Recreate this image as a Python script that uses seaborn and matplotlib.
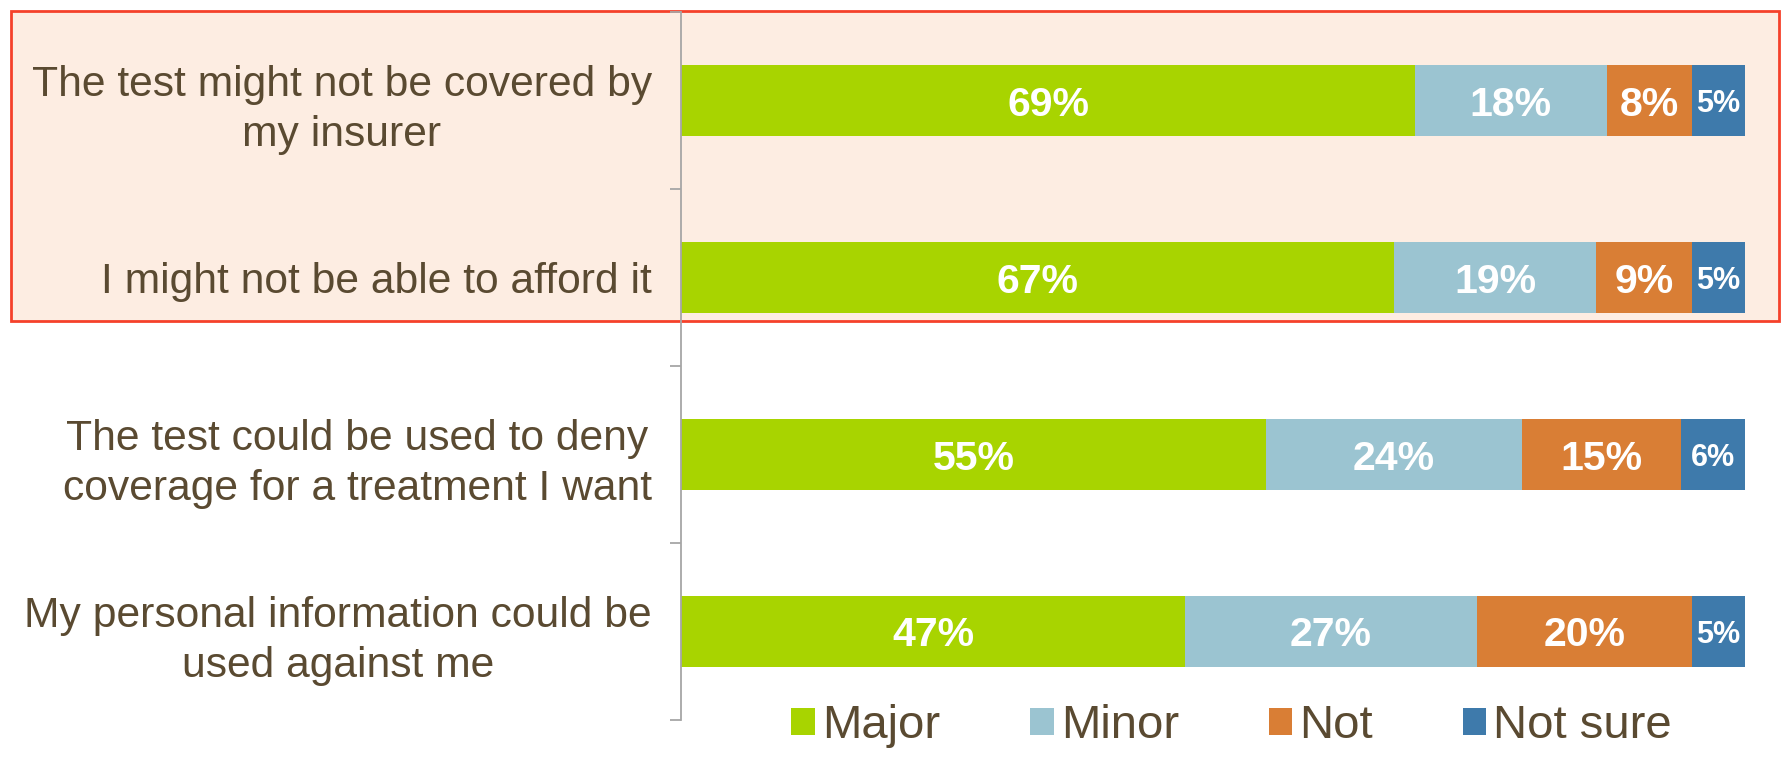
import matplotlib

matplotlib.use("Agg")
import matplotlib.pyplot as plt
import numpy as np
import pandas as pd
import seaborn as sns
from matplotlib.patches import Patch, Rectangle

# Survey concerns (top to bottom)
statements = [
    "The test might not be covered by\nmy insurer",
    "I might not be able to afford it",
    "The test could be used to deny\ncoverage for a treatment I want",
    "My personal information could be\nused against me",
]
major = [69, 67, 55, 47.4]
minor = [18, 19, 24, 27.4]
not_concern = [8, 9, 15, 20.2]
not_sure = [5, 5, 6, 5.0]

series_names = ["Major", "Minor", "Not", "Not sure"]
series_colors = ["#A8D400", "#9BC4D1", "#D97E35", "#3E7AAB"]

text_brown = "#5A4A31"
axis_gray = "#A6A6A6"

sns.set_theme(style="white")
plt.rcParams["font.family"] = ["Liberation Sans", "DejaVu Sans"]

df = pd.DataFrame(
    {
        "statement": statements,
        "Major": major,
        "Minor": minor,
        "Not": not_concern,
        "Not sure": not_sure,
    }
)
cum = df[series_names].cumsum(axis=1)

fig = plt.figure(figsize=(17.85, 7.57), dpi=100)

# highlighted block around the two cost-related statements
highlight = Rectangle(
    (11 / 1785, 1 - 321 / 757),
    (1779 - 11) / 1785,
    (321 - 11) / 757,
    transform=fig.transFigure,
    facecolor="#FDEDE2",
    edgecolor="#F5412A",
    linewidth=2,
    zorder=-1,
)
fig.add_artist(highlight)

ax = fig.add_axes([0.3815, 0.0489, 0.5961, 0.9352])
ax.set_facecolor("none")

# stacked bars: draw cumulative totals from the back to the front
for name, color in reversed(list(zip(series_names, series_colors))):
    sns.barplot(
        x=cum[name],
        y=df["statement"],
        orient="h",
        color=color,
        saturation=1,
        width=0.4,
        linewidth=0,
        errorbar=None,
        ax=ax,
    )

# segment labels
for i in range(len(df)):
    for name in series_names:
        val = df.loc[i, name]
        center = cum.loc[i, name] - val / 2
        size = 22 if name == "Not sure" else 29.5
        ax.text(
            center,
            i,
            f"{val:.0f}%",
            ha="center",
            va="center_baseline",
            color="white",
            fontsize=size,
            fontweight="bold",
        )

ax.set_xlim(0, 100)
ax.set_ylim(len(df) - 0.5, -0.5)
ax.set_xlabel("")
ax.set_ylabel("")
ax.set_xticks([])

for side in ["top", "right", "bottom"]:
    ax.spines[side].set_visible(False)
ax.spines["left"].set_color(axis_gray)
ax.spines["left"].set_linewidth(1.3)

ax.set_yticks(np.arange(-0.5, len(df), 1.0), minor=True)
ax.tick_params(axis="y", which="minor", length=8, width=1.3, color=axis_gray, direction="out", left=True)
ax.tick_params(axis="y", which="major", length=0, pad=21, labelsize=30.7, labelcolor=text_brown)
for lbl in ax.get_yticklabels():
    lbl.set_multialignment("center")
    lbl.set_linespacing(1.33)

handles = [Patch(facecolor=c, edgecolor="none") for c in series_colors]
fig.legend(
    handles,
    series_names,
    loc="center",
    bbox_to_anchor=(0.69, 0.041),
    ncol=4,
    frameon=False,
    fontsize=34,
    labelcolor=text_brown,
    handlelength=0.5,
    handleheight=0.5,
    handletextpad=0.15,
    columnspacing=1.9,
    borderpad=0,
)

fig.savefig("out.png", dpi=100)
